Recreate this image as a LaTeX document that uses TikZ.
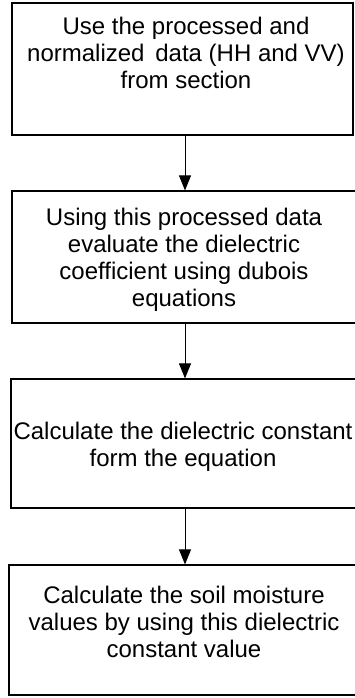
\documentclass[tikz,border=0pt]{standalone}
\usepackage{fontspec}
\setmainfont{Liberation Sans}
\usetikzlibrary{arrows.meta}
\begin{document}
\begin{tikzpicture}[x=1pt,y=-1pt,
  box/.style={draw=black,line width=1.2pt,rectangle,inner sep=0pt},
  txt/.style={anchor=north,align=center,inner sep=0pt,font=\fontsize{24pt}{27pt}\selectfont},
  arr/.style={draw=black,line width=1pt,-{Triangle[length=15pt,width=12pt]}}]
\useasboundingbox (0,0) rectangle (355,698);
\clip (0,0) rectangle (355,698);
\node[box,minimum width=341pt,minimum height=132pt] (b1) at (182.5,69) {};
\node[box,minimum width=346pt,minimum height=132pt] (b2) at (185,257) {};
\node[box,minimum width=348pt,minimum height=129pt] (b3) at (185,443.5) {};
\node[box,minimum width=352pt,minimum height=130pt] (b4) at (185,630) {};
\node[txt] (t1) at (186,17) {Use the processed and\\normalized\hspace{0.45em}data (HH and VV)\\from section};
\node[txt] (t2) at (184,207.5) {Using this processed data\\evaluate the dielectric\\coefficient using dubois\\equations};
\node[txt] (t3) at (183,422) {Calculate the dielectric constant\\form the equation};
\node[txt] (t4) at (184,585.5) {Calculate the soil moisture\\values by using this dielectric\\constant value};
\draw[arr] (b1.south -| b2.north) -- (b2.north);
\draw[arr] (b2.south) -- (b3.north);
\draw[arr] (b3.south) -- (b4.north);
\end{tikzpicture}
\end{document}
